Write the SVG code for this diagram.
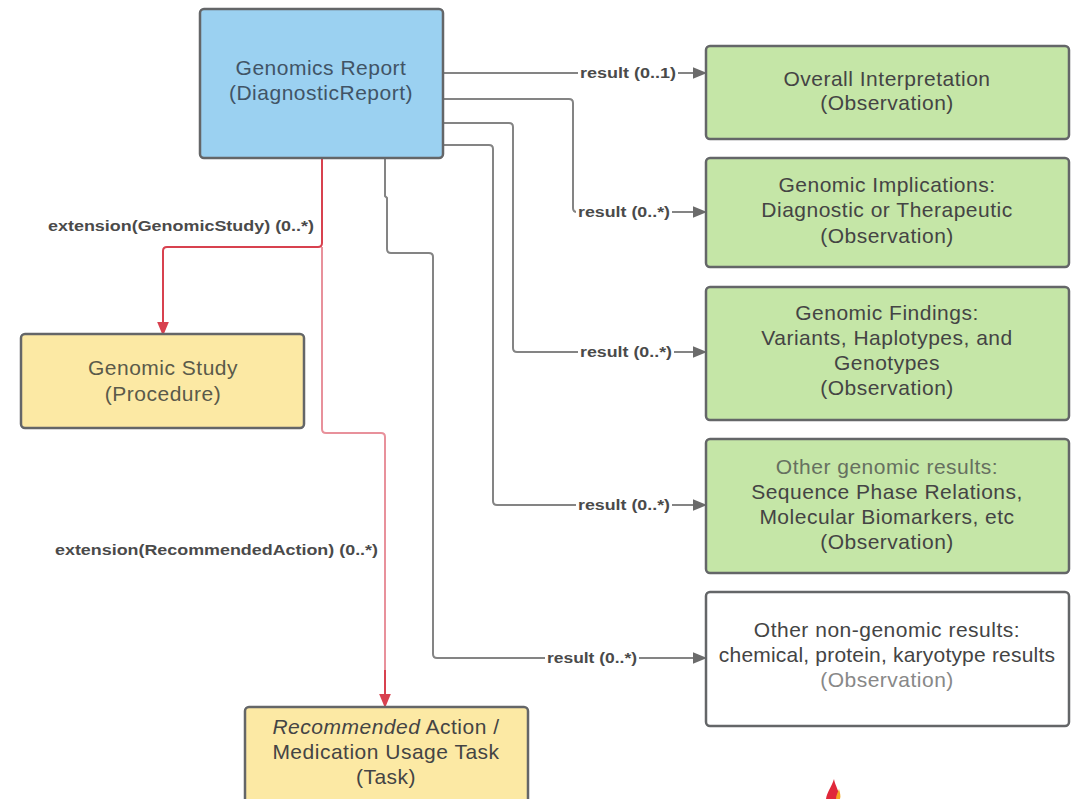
<svg xmlns="http://www.w3.org/2000/svg" width="1079" height="799" viewBox="0 0 1079 799">
<style>
.box{stroke:#646668;stroke-width:2.5}
.t{font-family:"Liberation Sans",Arial,sans-serif;font-size:21px;letter-spacing:0.5px;fill:#444;text-anchor:middle}
.lbl{font-family:"Liberation Sans",Arial,sans-serif;font-size:14px;font-weight:bold;fill:#4a4a4a}
.g{fill:none;stroke:#848484;stroke-width:2}
.r{fill:none;stroke:#d8414f;stroke-width:2}
.rl{fill:none;stroke:#e8919b;stroke-width:2}
</style>
<defs>
<marker id="ag" markerUnits="userSpaceOnUse" markerWidth="14" markerHeight="12" refX="0" refY="5" orient="auto" viewBox="0 0 12 10"><path d="M0,0 L12,5 L0,10 Z" fill="#6b6b6b"/></marker>
<marker id="ar" markerUnits="userSpaceOnUse" markerWidth="14" markerHeight="14" refX="0" refY="5" orient="auto" viewBox="0 0 12 10"><path d="M0,0 L12,5 L0,10 Z" fill="#d8414f"/></marker>
</defs>
<rect width="1079" height="799" fill="#fff"/>
<g id="connectors">
<path class="g" d="M443,73 H693" marker-end="url(#ag)"/>
<path class="g" d="M443,99 H569 Q573,99 573,103 V208 Q573,212 577,212 H693" marker-end="url(#ag)"/>
<path class="g" d="M443,123 H509 Q513,123 513,127 V348 Q513,352 517,352 H693" marker-end="url(#ag)"/>
<path class="g" d="M443,145 H489 Q493,145 493,149 V501 Q493,505 497,505 H693" marker-end="url(#ag)"/>
<path class="g" d="M385,158 V196 L387,198 V249 Q387,253 391,253 H429 Q433,253 433,257 V654 Q433,658 437,658 H693" marker-end="url(#ag)"/>
<path class="r" d="M322,158 V243 Q322,247 318,247 H167 Q163,247 163,251 V322" marker-end="url(#ar)"/>
<path class="rl" d="M322,247 V429 Q322,433 326,433 H381 Q385,433 385,437 V694"/>
<path class="r" d="M385,670 V694" marker-end="url(#ar)"/>
<rect x="578" y="64" width="100" height="18" fill="#fff"/>
<text class="lbl" x="580" y="78" textLength="96" lengthAdjust="spacingAndGlyphs">result (0..1)</text>
<rect x="576" y="203" width="96" height="18" fill="#fff"/>
<text class="lbl" x="578" y="217" textLength="92" lengthAdjust="spacingAndGlyphs">result (0..*)</text>
<rect x="578" y="343" width="96" height="18" fill="#fff"/>
<text class="lbl" x="580" y="357" textLength="92" lengthAdjust="spacingAndGlyphs">result (0..*)</text>
<rect x="576" y="496" width="96" height="18" fill="#fff"/>
<text class="lbl" x="578" y="510" textLength="92" lengthAdjust="spacingAndGlyphs">result (0..*)</text>
<rect x="545" y="649" width="94" height="18" fill="#fff"/>
<text class="lbl" x="547" y="663" textLength="90" lengthAdjust="spacingAndGlyphs">result (0..*)</text>
<text class="lbl" x="48" y="231" textLength="266" lengthAdjust="spacingAndGlyphs">extension(GenomicStudy) (0..*)</text>
<text class="lbl" x="55" y="555" textLength="323" lengthAdjust="spacingAndGlyphs">extension(RecommendedAction) (0..*)</text>
</g>
<g id="genomics-report">
<rect class="box" x="200" y="9" width="243" height="149" rx="4" fill="#9bd1f1"/>
<text class="t" x="321" y="75" style="fill:#415466">Genomics Report</text>
<text class="t" x="321" y="100" style="fill:#415466">(DiagnosticReport)</text>
</g>
<g id="genomic-study">
<rect class="box" x="21" y="334" width="283" height="94" rx="4" fill="#fce9a4"/>
<text class="t" x="163" y="375" style="fill:#5a5a4a">Genomic Study</text>
<text class="t" x="163" y="401" style="fill:#5a5a4a">(Procedure)</text>
</g>
<g id="recommended-action">
<rect class="box" x="245" y="707" width="283" height="100" rx="4" fill="#fce9a4"/>
<text class="t" x="386" y="734"><tspan font-style="italic">Recommended</tspan> Action /</text>
<text class="t" x="386" y="759">Medication Usage Task</text>
<text class="t" x="386" y="784">(Task)</text>
</g>
<g id="overall-interpretation">
<rect class="box" x="706" y="46" width="363" height="93" rx="4" fill="#c5e6a7"/>
<text class="t" x="887" y="86">Overall Interpretation</text>
<text class="t" x="887" y="110">(Observation)</text>
</g>
<g id="genomic-implications">
<rect class="box" x="706" y="158" width="363" height="109" rx="4" fill="#c5e6a7"/>
<text class="t" x="887" y="192">Genomic Implications:</text>
<text class="t" x="887" y="217">Diagnostic or Therapeutic</text>
<text class="t" x="887" y="243">(Observation)</text>
</g>
<g id="genomic-findings">
<rect class="box" x="706" y="287" width="363" height="133" rx="4" fill="#c5e6a7"/>
<text class="t" x="887" y="320">Genomic Findings:</text>
<text class="t" x="887" y="345">Variants, Haplotypes, and</text>
<text class="t" x="887" y="370">Genotypes</text>
<text class="t" x="887" y="395">(Observation)</text>
</g>
<g id="other-genomic-results">
<rect class="box" x="706" y="439" width="363" height="134" rx="4" fill="#c5e6a7"/>
<text class="t" x="887" y="474" style="fill:#667060">Other genomic results:</text>
<text class="t" x="887" y="499">Sequence Phase Relations,</text>
<text class="t" x="887" y="524">Molecular Biomarkers, etc</text>
<text class="t" x="887" y="549">(Observation)</text>
</g>
<g id="other-non-genomic-results">
<rect class="box" x="706" y="592" width="363" height="134" rx="4" fill="#fff"/>
<text class="t" x="887" y="637">Other non-genomic results:</text>
<text class="t" x="887" y="662" style="letter-spacing:0.2px">chemical, protein, karyotype results</text>
<text class="t" x="887" y="687" style="fill:#888">(Observation)</text>
</g>
<g id="flame">
<path d="M826,799 C827,792 831,788 834,779 C835,786 840,791 839,799 Z" fill="#e0283a"/>
<path d="M836,799 C836,795 838,792 839,789 C840,793 841,796 840,799 Z" fill="#f5a623"/>
</g>
</svg>
